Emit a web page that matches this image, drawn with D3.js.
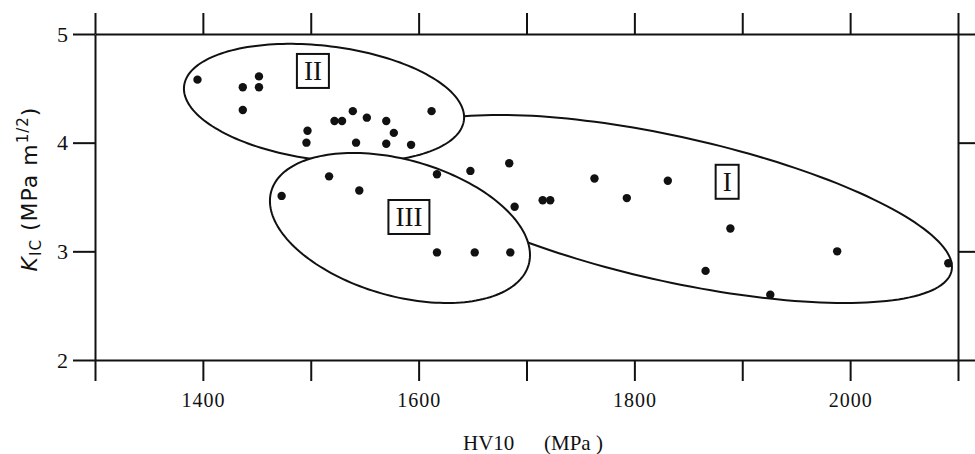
<!DOCTYPE html>
<html>
<head>
<meta charset="utf-8">
<script src="https://cdn.jsdelivr.net/npm/d3@7"></script>
<style>
body { margin: 0; background: #fff; }
svg { display: block; }
</style>
</head>
<body>
<svg width="975" height="454"></svg>
<script>
// values: HV10 (MPa) against K_IC (MPa m^1/2)
var groupI = [[1617,3.71],[1648,3.74],[1684,3.81],[1689,3.41],[1715,3.47],[1722,3.47],[1763,3.67],
  [1793,3.49],[1831,3.65],[1866,2.82],[1889,3.21],[1926,2.60],[1988,3.00],[2091,2.89]];
var groupII = [[1395,4.58],[1437,4.51],[1452,4.61],[1452,4.51],[1437,4.30],[1497,4.11],[1496,4.00],
  [1522,4.20],[1529,4.20],[1539,4.29],[1552,4.23],[1542,4.00],[1570,4.20],[1577,4.09],[1570,3.99],
  [1593,3.98],[1612,4.29]];
var groupIII = [[1473,3.51],[1517,3.69],[1545,3.56],[1617,2.99],[1652,2.99],[1685,2.99]];

var xTicks = [1300,1400,1500,1600,1700,1800,1900,2000,2100];
var xLabels = [1400,1600,1800,2000];
var yTicks = [2,3,4,5];

// group outlines: centre plus two conjugate semi-axes, all in data units
var groupNames = ["I","II","III"];
var outlineCentres = [[1834.9,3.390],[1512.3,4.365],[1582.7,3.215]];
var outlineU = [[259.5,-0.534],[129.7,-0.158],[119.3,-0.338]];
var outlineV = [[0,-0.681],[-6.44,-0.521],[-17.2,-0.602]];
var labelAt = [[1886,3.64],[1502,4.66],[1591,3.316]];

var svg = d3.select("svg"),
    ink = "#111";

var x = d3.scaleLinear().domain([1300,2100]).range([95,958]);
var y = d3.scaleLinear().domain([2,5]).range([360,34]);

function styleAxis(g) {
  g.attr("font-family", "'Liberation Serif', 'Times New Roman', serif")
   .attr("font-size", 20);
  g.selectAll("path, line").attr("stroke", ink).attr("stroke-width", 2);
  g.selectAll("text").attr("fill", ink).attr("letter-spacing", 1);
}

svg.append("g").attr("transform", "translate(0,360)")
  .call(d3.axisBottom(x).tickValues(xTicks).tickSize(21).tickSizeOuter(0).tickPadding(12)
    .tickFormat(function(d) { return xLabels.indexOf(d) >= 0 ? d : ""; }))
  .call(styleAxis);
svg.append("g").attr("transform", "translate(0,34)")
  .call(d3.axisTop(x).tickValues(xTicks).tickSize(21).tickSizeOuter(0).tickFormat(""))
  .call(styleAxis);
svg.append("g").attr("transform", "translate(95,0)")
  .call(d3.axisLeft(y).tickValues(yTicks).tickSize(22).tickSizeOuter(0).tickPadding(4)
    .tickFormat(d3.format("d")))
  .call(styleAxis)
  .selectAll("text").attr("font-size", 22);
svg.append("g").attr("transform", "translate(958,0)")
  .call(d3.axisRight(y).tickValues(yTicks).tickSize(17).tickSizeOuter(0).tickFormat(""))
  .call(styleAxis);

// outlines, I first so II and III cover its hidden end
var line = d3.line().curve(d3.curveLinearClosed);
groupNames.forEach(function(name, i) {
  var c = outlineCentres[i], u = outlineU[i], v = outlineV[i];
  var pts = d3.range(0, 2 * Math.PI, Math.PI / 90).map(function(t) {
    return [x(c[0] + u[0] * Math.cos(t) + v[0] * Math.sin(t)),
            y(c[1] + u[1] * Math.cos(t) + v[1] * Math.sin(t))];
  });
  svg.append("path").attr("d", line(pts))
    .attr("fill", "#fff").attr("stroke", ink).attr("stroke-width", 2);
});

// boxed roman numerals
groupNames.forEach(function(name, i) {
  var g = svg.append("g").attr("transform", "translate(" + x(labelAt[i][0]) + "," + y(labelAt[i][1]) + ")");
  var t = g.append("text").text(name)
    .attr("text-anchor", "middle").attr("y", 9)
    .attr("font-family", "'Liberation Serif', 'Times New Roman', serif")
    .attr("font-size", 27).attr("fill", ink);
  var w = t.node().getBBox().width + 14;
  g.insert("rect", "text").attr("x", -w / 2).attr("y", -17).attr("width", w).attr("height", 34)
    .attr("fill", "#fff").attr("stroke", ink).attr("stroke-width", 2);
});

// data points
svg.append("g").selectAll("circle")
  .data(groupI.concat(groupII, groupIII))
  .enter().append("circle")
  .attr("cx", function(d) { return x(d[0]); })
  .attr("cy", function(d) { return y(d[1]); })
  .attr("r", 4.2)
  .attr("fill", ink);

// axis titles
var xt = svg.append("text").attr("y", 450)
  .attr("font-family", "'Liberation Serif', 'Times New Roman', serif")
  .attr("font-size", 21).attr("fill", ink);
xt.append("tspan").attr("x", 463).text("HV10");
xt.append("tspan").attr("x", 544).text("(MPa )");

var yt = svg.append("text")
  .attr("transform", "translate(37,189) rotate(-90)")
  .attr("text-anchor", "middle")
  .attr("font-family", "'DejaVu Sans', sans-serif")
  .attr("font-size", 22).attr("letter-spacing", 1).attr("fill", ink);
yt.append("tspan").attr("font-style", "italic").text("K");
yt.append("tspan").attr("font-size", 15).attr("dy", 4).text("IC");
yt.append("tspan").attr("dy", -4).text(" (MPa m");
yt.append("tspan").attr("font-size", 15).attr("dy", -9).text("1/2");
yt.append("tspan").attr("dy", 9).text(")");
</script>
</body>
</html>
